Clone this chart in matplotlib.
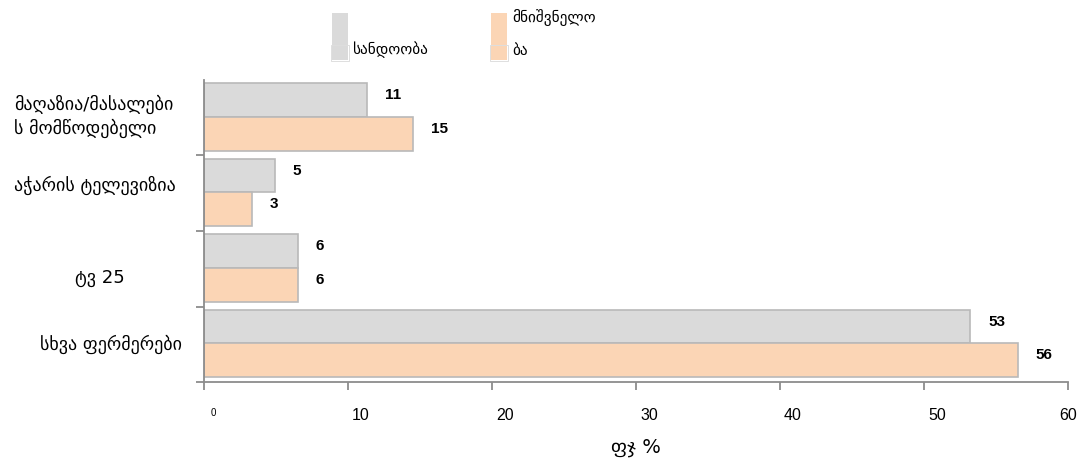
import matplotlib
matplotlib.use("Agg")
import matplotlib.pyplot as plt
import numpy as np
from matplotlib.patches import Rectangle
from matplotlib.transforms import offset_copy, ScaledTranslation

# ---- data ----
categories = ["მაღაზია/მასალები\nს მომწოდებელი", "აჭარის ტელევიზია", "ტვ 25", "სხვა ფერმერები"]
reliability = [11.3, 4.9, 6.5, 53.2]     # სანდოობა
importance = [14.5, 3.3, 6.5, 56.5]      # მნიშვნელობა
reliability_labels = ["11", "5", "6", "53"]
importance_labels = ["15", "3", "6", "56"]
series_names = ["სანდოობა", "მნიშვნელო\nბა"]
xticks = [0, 10, 20, 30, 40, 50, 60]
xlabel = "ფჯ %"

GREY = "#dadada"
ORANGE = "#fbd5b5"
EDGE = "#b9b9b9"
W, H = 1088, 461

fig = plt.figure(figsize=(W / 100, H / 100), dpi=100)
ax = fig.add_axes([204 / W, 1 - 382 / H, (1068 - 204) / W, (382 - 80) / H])

y = np.arange(len(categories))
bh = 0.45
ax.barh(y - 0.235, reliability, height=bh, color=GREY, edgecolor=EDGE, linewidth=1.2)
ax.barh(y + 0.215, importance, height=bh, color=ORANGE, edgecolor=EDGE, linewidth=1.2)

lab_font = dict(family="Liberation Sans", fontweight="bold", fontsize=11, color="black")
for i in range(len(categories)):
    t1 = offset_copy(ax.transData, fig=fig, x=18, y=5, units="dots")
    ax.text(reliability[i], y[i] - 0.235, reliability_labels[i], transform=t1,
            ha="left", va="center", **lab_font)
    ax.text(importance[i], y[i] + 0.215, importance_labels[i], transform=t1,
            ha="left", va="center", **lab_font)

ax.set_xlim(0, 60)
ax.set_ylim(3.5, -0.5)
ax.set_yticks(np.arange(0.5, 4.0, 1.0))
ax.set_yticklabels([])
ax.set_xticks(xticks)
ax.set_xticklabels([str(v) for v in xticks])
for sp in ["top", "right"]:
    ax.spines[sp].set_visible(False)
for sp in ["left", "bottom"]:
    ax.spines[sp].set_color("#8c8c8c")
    ax.spines[sp].set_linewidth(1.3)
ax.tick_params(axis="both", colors="#8c8c8c", length=6, width=1.3, direction="out")
ax.tick_params(axis="x", labelcolor="black", pad=13)
nl = len(xticks)
for k, lbl in enumerate(ax.get_xticklabels()):
    lbl.set_fontfamily("Liberation Sans")
    if k == 0:
        lbl.set_fontsize(7)
        shift = 9
    else:
        lbl.set_fontsize(11.5)
        shift = 13 if k < nl - 1 else 0
    lbl.set_transform(lbl.get_transform() + ScaledTranslation(shift / 100, 0, fig.dpi_scale_trans))

fig.text(636 / W, 1 - 447 / H, xlabel, ha="center", va="center", fontsize=14, family="DejaVu Sans")

# category labels placed as in the reference
def ftext(x, yc, s, **kw):
    fig.text(x / W, 1 - yc / H, s, va="center", ha="left", **kw)

gfont = dict(fontsize=13, family="DejaVu Sans", color="black")
first = categories[0].split("\n")
ftext(14, 104, first[0], **gfont)
ftext(14, 128, first[1], **gfont)
ftext(14, 185, categories[1], **gfont)
ftext(75, 278, categories[2], **gfont)
ftext(40, 344, categories[3], **gfont)

# legend (manual, as in the reference)
def frect(x0, y0, x1, y1, **kw):
    fig.patches.append(Rectangle((x0 / W, 1 - y1 / H), (x1 - x0) / W, (y1 - y0) / H,
                                 transform=fig.transFigure, figure=fig, **kw))

frect(332, 13, 348, 60, facecolor=GREY, edgecolor="none")
frect(331, 45, 349, 61, facecolor="none", edgecolor="#dedede", linewidth=0.7)
frect(491, 13, 507, 60, facecolor=ORANGE, edgecolor="none")
frect(490, 45, 508, 61, facecolor="none", edgecolor="#dedede", linewidth=0.7)
lfont = dict(fontsize=11, family="DejaVu Sans", color="black")
ftext(352, 50, series_names[0], **lfont)
imp = series_names[1].split("\n")
ftext(512, 18, imp[0], **lfont)
ftext(512, 50, imp[1], **lfont)

fig.savefig("out.png", dpi=100)
